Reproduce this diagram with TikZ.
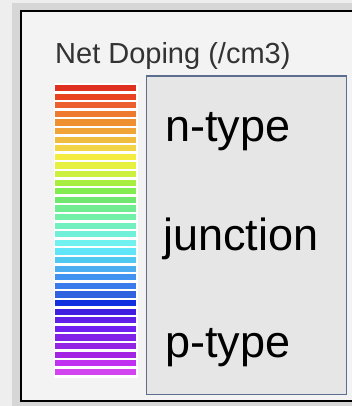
\documentclass[tikz,border=0pt]{standalone}
\usepackage{fontspec}
\setmainfont{Liberation Sans}
\definecolor{outerbg}{HTML}{EEEEEE}
\definecolor{band}{HTML}{D6D6D6}
\definecolor{panelbg}{HTML}{F3F3F3}
\definecolor{boxfill}{HTML}{E6E6E6}
\definecolor{boxline}{HTML}{5C6E8E}
\tikzset{
  label text/.style={anchor=base west, inner sep=0pt, font=\fontsize{29}{29}\selectfont, text=black!80},
  big text/.style={anchor=base west, inner sep=0pt, font=\fontsize{45}{45}\selectfont, text=black},
  legendbox/.style={fill=boxfill, draw=boxline, line width=1.2pt},
}
\begin{document}
\begin{tikzpicture}[x=1pt,y=-1pt]
\useasboundingbox (0,0) rectangle (352,406);
\fill[outerbg] (0,0) rectangle (352,406);
\fill[band] (12,3) rectangle (352,406);
\fill[panelbg] (21,11) rectangle (360,401);
\draw[black, line width=2pt] (360,11) -- (21,11) -- (21,401) -- (360,401);
\node[label text] (title) at (55,64) {Net Doping (/cm3)};
\fill[white] (53.5,83.5) rectangle (137.5,377.5);
\foreach \c [count=\i from 0] in {E03020,E84420,EC6030,EE7A30,EE9030,F0A438,F0BC40,F2D444,F4EC40,E6F040,CCF040,A8EE40,80EC50,70E870,72EC90,72F0A8,72F0C0,70F0D8,70F0EE,60E6F8,50C8F0,4CAEF0,4092F0,3A7CEC,3062E0,1030E0,4020E0,6020E8,7020F0,8222E8,9424E4,A424E4,C030F0,D244F0}{
  \definecolor{barc}{HTML}{\c}
  \fill[barc] (55,{85+8.6*\i}) rectangle (136,{91.2+8.6*\i});
}
\node[legendbox, minimum width=200.5pt, minimum height=318pt, anchor=north west, inner sep=0pt] (legend) at (145.5,75.5) {};
\node[big text] (ntype) at (165,142) {n-type};
\node[big text] (junction) at (163,250) {junction};
\node[big text] (ptype) at (165,357) {p-type};
\end{tikzpicture}
\end{document}
